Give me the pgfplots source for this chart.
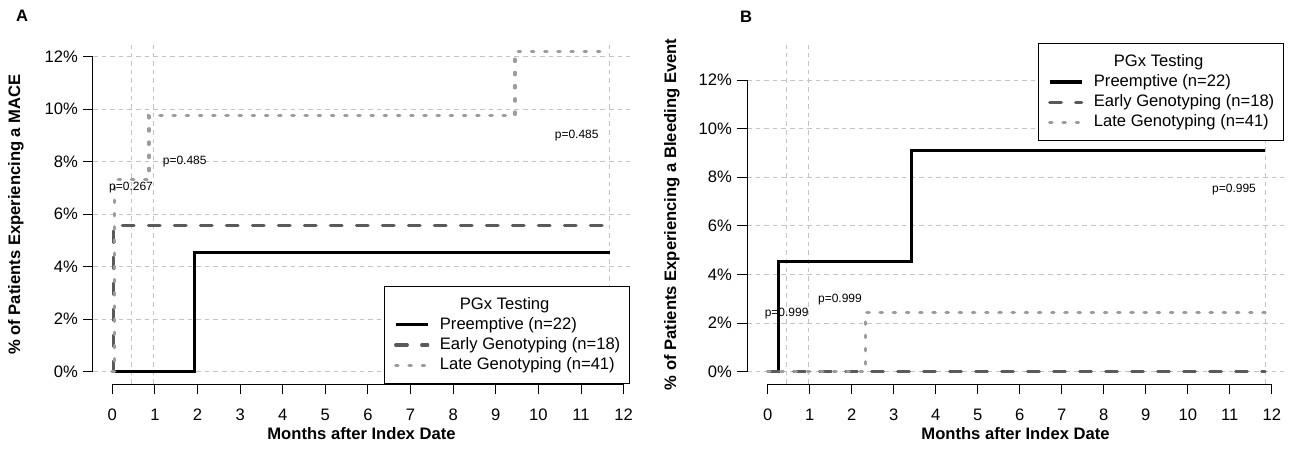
\documentclass[border=0pt]{standalone}
\usepackage{fontspec}
\setmainfont{Liberation Sans}
\usepackage{pgfplots}
\pgfplotsset{compat=1.18}

\definecolor{earlygray}{HTML}{5A5A5A}
\definecolor{lategray}{HTML}{9C9C9C}
\definecolor{gridgray}{HTML}{C4C4C4}

\newcommand{\tfont}{\fontsize{8.3}{10}\selectfont}
\newcommand{\pfont}{\fontsize{6}{7}\selectfont}

\pgfplotsset{
  kmstyle/.style={
    scale only axis, width=268.5pt, height=169.5pt,
    clip=false,
    axis line style={draw=none},
    tick align=outside, xtick pos=left, ytick pos=left,
    major tick length=5pt,
    tick style={black, line width=0.5pt},
    xtick={0,...,12}, ytick={0,2,...,12},
    yticklabel={\pgfmathprintnumber{\tick}\%},
    tick label style={font=\tfont},
    xticklabel style={yshift=-4pt},
    yticklabel style={xshift=1pt},
    /pgf/number format/assume math mode=true,
    ymajorgrids,
    grid style={gridgray, line width=0.5pt, dash pattern=on 2.3pt off 2pt},
    label style={font=\tfont\bfseries},
    xlabel style={at={(axis description cs:0.5,-0.1475)}, anchor=center},
    legend style={draw=black, line width=0.5pt, fill=white, font=\tfont,
      inner xsep=3.5pt, inner ysep=4.3pt, row sep=0.4pt,
      nodes={inner sep=1.1pt}},
    legend cell align=left,
    legend image code/.code={\draw[##1] (0pt,0pt) -- (16pt,0pt);
      \path[draw=none] (-2pt,0pt) -- (21pt,0pt);},
  },
  pre/.style={black, line width=1.6pt},
  early/.style={earlygray, line width=1.6pt, line cap=round, dash pattern=on 5.8pt off 7.2pt},
  late/.style={lategray, line width=1.6pt, line cap=round, dash pattern=on 1.2pt off 5.4pt},
  refl/.style={gridgray, line width=0.5pt, dash pattern=on 2.3pt off 2pt, forget plot},
}

\begin{document}
\begin{tikzpicture}
\useasboundingbox (0,0) rectangle (648pt,-228pt);

% panel A: MACE
\begin{axis}[kmstyle,
  at={(46.5pt,-192pt)}, anchor=south west,
  xmin=-0.453, xmax=12.15, ymin=-0.469, ymax=12.446,
  xlabel={Months after Index Date},
  ylabel={\% of Patients Experiencing a MACE},
  ylabel style={at={(axis description cs:-0.1434,0.5)}, anchor=center},
  legend style={at={(1,0)}, anchor=south east},
]
\addplot[refl] coordinates {(0.455,-0.469) (0.455,12.446)};
\addplot[refl] coordinates {(0.96,-0.469) (0.96,12.446)};
\addplot[refl] coordinates {(11.68,-0.469) (11.68,12.446)};

\addlegendimage{empty legend}
\addlegendentry{\hspace{10pt}PGx Testing\rule[-4.5pt]{0pt}{4pt}}
\addplot[pre] coordinates {(0,0) (1.92,0) (1.92,4.545) (11.68,4.545)};
\addlegendentry{Preemptive (n=22)}
\addplot[early] coordinates {(0,0) (0.02,0) (0.02,5.556) (11.68,5.556)};
\addlegendentry{Early Genotyping (n=18)}
\addplot[late] coordinates {(0,0) (0.06,0) (0.06,7.317) (0.86,7.317) (0.86,9.756) (9.45,9.756) (9.45,12.195) (11.68,12.195)};
\addlegendentry{Late Genotyping (n=41)}

\draw[black, line width=0.5pt] (axis cs:0,-0.469) -- (axis cs:12,-0.469);
\draw[black, line width=0.5pt] (axis cs:-0.453,0) -- (axis cs:-0.453,12);

\node[font=\pfont] at (axis cs:0.44,7.0) {p=0.267};
\node[font=\pfont] at (axis cs:1.70,8.0) {p=0.485};
\node[font=\pfont] at (axis cs:10.9,9.0) {p=0.485};
\end{axis}

% panel B: bleeding
\begin{axis}[kmstyle,
  at={(373.5pt,-192pt)}, anchor=south west,
  xmin=-0.493, xmax=12.29, ymin=-0.506, ymax=13.44,
  xlabel={Months after Index Date},
  ylabel={\% of Patients Experiencing a Bleeding Event},
  ylabel style={at={(axis description cs:-0.1397,0.5)}, anchor=center},
  legend style={at={(1,1.006)}, anchor=north east},
]
\addplot[refl] coordinates {(0.45,-0.506) (0.45,13.44)};
\addplot[refl] coordinates {(0.96,-0.506) (0.96,13.44)};
\addplot[refl] coordinates {(11.84,-0.506) (11.84,13.44)};

\addlegendimage{empty legend}
\addlegendentry{\hspace{10pt}PGx Testing\rule[-4.5pt]{0pt}{4pt}}
\addplot[pre] coordinates {(0,0) (0.25,0) (0.25,4.545) (3.43,4.545) (3.43,9.091) (11.84,9.091)};
\addlegendentry{Preemptive (n=22)}
\addplot[early] coordinates {(0,0) (11.84,0)};
\addlegendentry{Early Genotyping (n=18)}
\addplot[late] coordinates {(0,0) (2.33,0) (2.33,2.439) (11.84,2.439)};
\addlegendentry{Late Genotyping (n=41)}

\draw[black, line width=0.5pt] (axis cs:0,-0.506) -- (axis cs:12,-0.506);
\draw[black, line width=0.5pt] (axis cs:-0.493,0) -- (axis cs:-0.493,12);

\node[font=\pfont] at (axis cs:0.45,2.4) {p=0.999};
\node[font=\pfont] at (axis cs:1.72,2.98) {p=0.999};
\node[font=\pfont] at (axis cs:11.1,7.48) {p=0.995};
\end{axis}

\node[font=\tfont\bfseries] at (11pt,-8pt) {A};
\node[font=\tfont\bfseries] at (373pt,-8.5pt) {B};
\end{tikzpicture}
\end{document}
